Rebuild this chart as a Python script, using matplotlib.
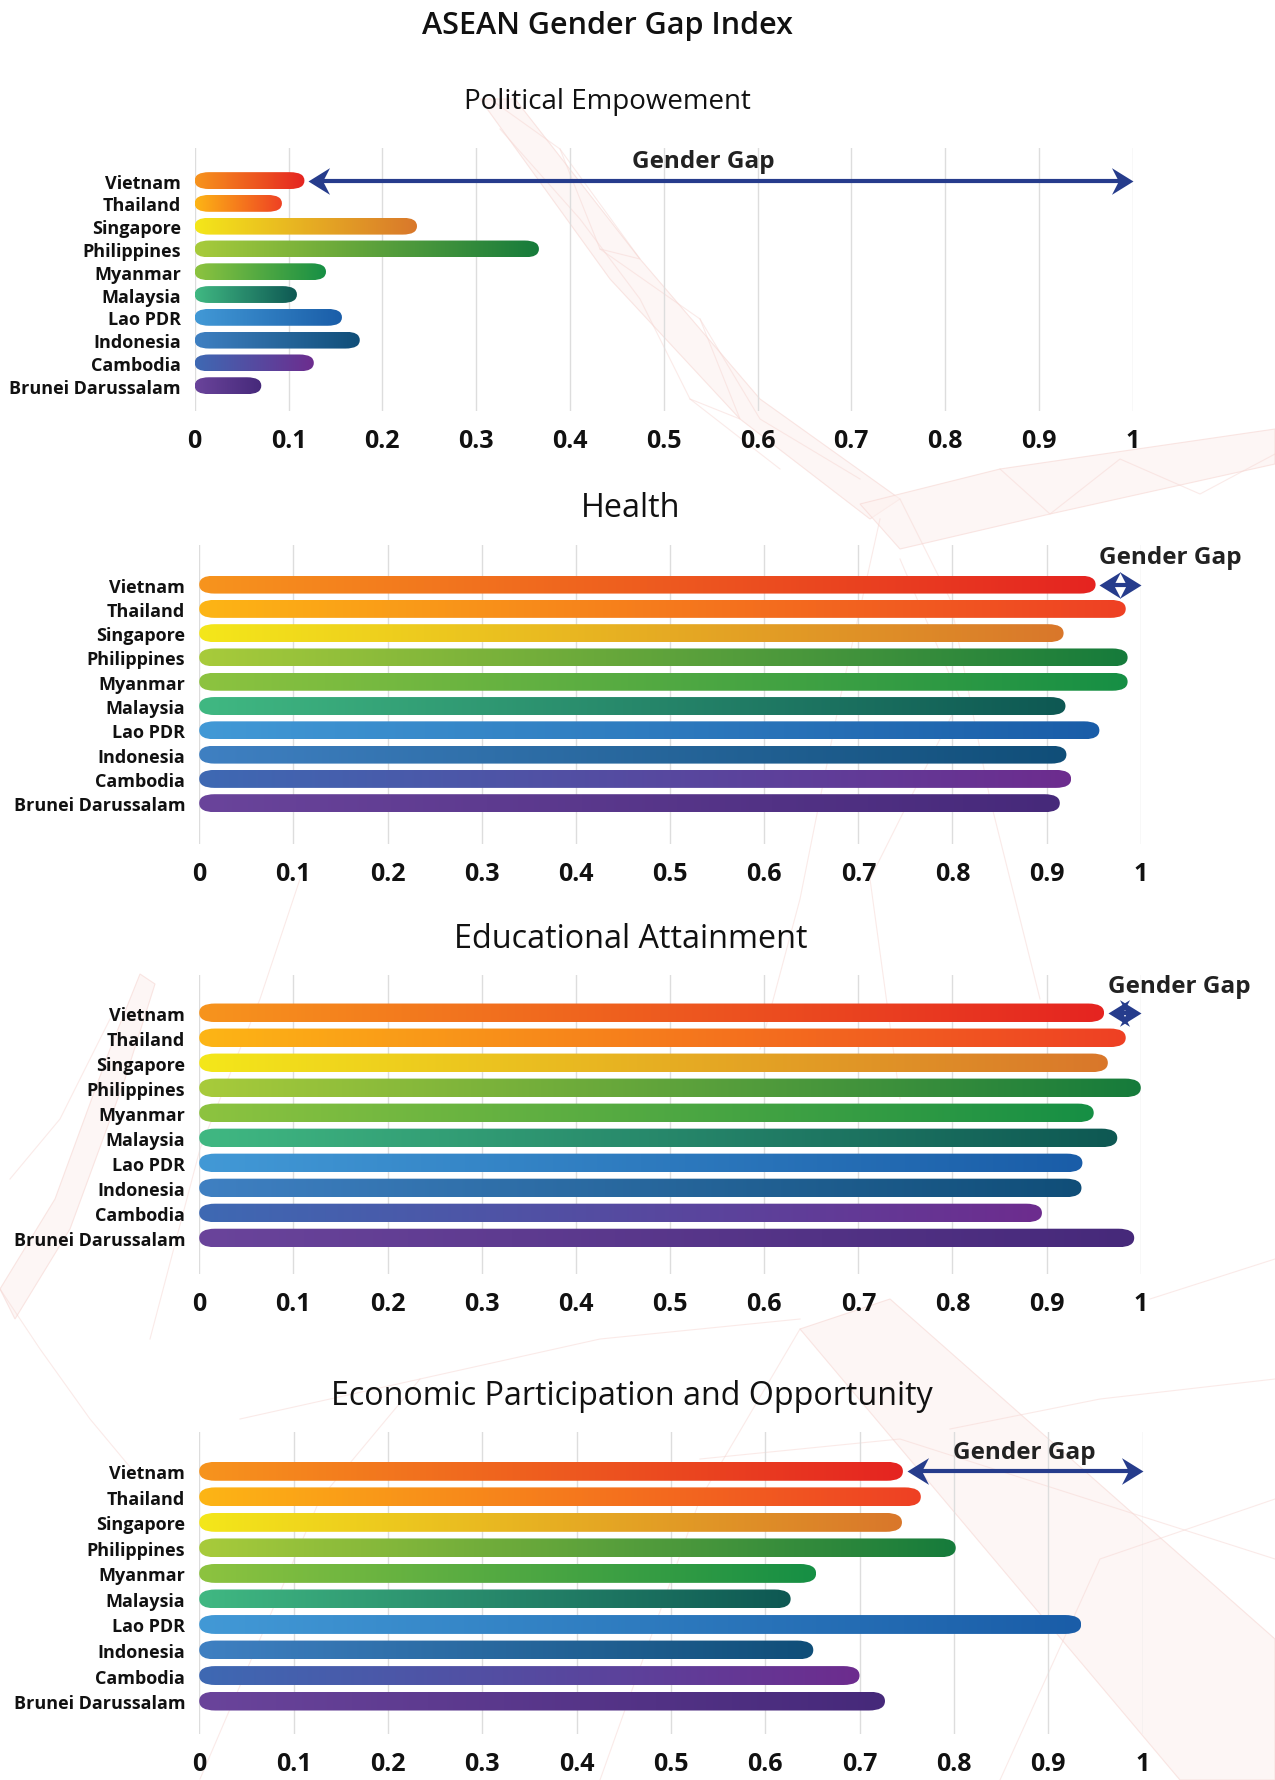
import matplotlib
matplotlib.use("Agg")
import matplotlib.pyplot as plt
import numpy as np
from matplotlib.patches import FancyBboxPatch, Polygon
from matplotlib.lines import Line2D
from matplotlib.path import Path
from matplotlib.colors import to_rgb

# ---------------- data ----------------
countries = ["Vietnam", "Thailand", "Singapore", "Philippines", "Myanmar",
             "Malaysia", "Lao PDR", "Indonesia", "Cambodia", "Brunei Darussalam"]
political = [0.117, 0.093, 0.237, 0.367, 0.140, 0.109, 0.157, 0.176, 0.127, 0.071]
health = [0.952, 0.984, 0.918, 0.986, 0.986, 0.920, 0.956, 0.921, 0.926, 0.914]
education = [0.961, 0.984, 0.965, 1.000, 0.950, 0.975, 0.938, 0.937, 0.895, 0.993]
economic = [0.746, 0.765, 0.745, 0.802, 0.654, 0.627, 0.935, 0.651, 0.700, 0.727]
tick_values = [0, 0.1, 0.2, 0.3, 0.4, 0.5, 0.6, 0.7, 0.8, 0.9, 1.0]
tick_labels = ["0", "0.1", "0.2", "0.3", "0.4", "0.5", "0.6", "0.7", "0.8", "0.9", "1"]
start_colors = ["#F7941D", "#FDB515", "#F4E71A", "#A8CB3A", "#8DC33F",
                "#40B882", "#4299D6", "#3F80C2", "#3E69B3", "#6A449B"]
end_colors = ["#E52421", "#EE4024", "#D9772B", "#167B3C", "#168F45",
              "#0E5853", "#1A5DA8", "#104E78", "#6D2C8E", "#46297A"]
gap_color = "#263C8C"

W, H = 1275, 1781
fig = plt.figure(figsize=(W / 100, H / 100), dpi=100)
fig.patch.set_facecolor("white")

LABEL_FONT = ["Open Sans", "DejaVu Sans"]
TITLE_FONT = ["Open Sans", "DejaVu Sans"]


def px_rect(l, t, r, b):
    return [l / W, 1 - b / H, (r - l) / W, (b - t) / H]


def fxy(pts):
    return [(x / W, 1 - y / H) for x, y in pts]


# ---------------- faint decorative background mesh ----------------
deco_line = "#F6D6D2"
deco_fill = "#FDF1EF"
ribbons = [
    [(480, 100), (515, 100), (640, 260), (760, 400), (900, 500), (870, 520), (740, 420), (610, 280)],
    [(860, 505), (1000, 470), (1275, 430), (1275, 465), (1050, 515), (900, 550)],
    [(0, 1290), (55, 1200), (110, 1050), (140, 975), (155, 985), (125, 1080), (70, 1230), (15, 1320)],
    [(800, 1330), (890, 1300), (1275, 1640), (1275, 1781), (1180, 1781)],
]
for pts in ribbons:
    fig.add_artist(Polygon(fxy(pts), closed=True, transform=fig.transFigure,
                           facecolor=deco_fill, edgecolor=deco_line, lw=0.8,
                           alpha=0.6, zorder=-2))
mesh_lines = [
    [(490, 100), (560, 150), (600, 250), (700, 320), (760, 420), (860, 480)],
    [(500, 130), (580, 220), (640, 300), (690, 400), (780, 470)],
    [(560, 150), (640, 260), (600, 250)],
    [(700, 320), (740, 420), (690, 400)],
    [(900, 500), (950, 600), (990, 800), (1040, 1000)],
    [(880, 520), (840, 700), (800, 900), (760, 1050)],
    [(900, 560), (960, 700), (870, 880), (900, 1100)],
    [(1000, 470), (1050, 515), (1120, 460), (1200, 495), (1275, 455)],
    [(300, 880), (260, 1000), (200, 1150), (150, 1340)],
    [(0, 1290), (40, 1350), (90, 1420), (140, 1480)],
    [(10, 1180), (60, 1120), (110, 1020)],
    [(240, 1420), (420, 1380), (600, 1340), (800, 1320)],
    [(200, 1780), (320, 1500), (420, 1380)],
    [(600, 1781), (700, 1500), (800, 1330)],
    [(1000, 1781), (1100, 1560), (1275, 1500)],
    [(950, 1430), (1100, 1400), (1275, 1380)],
    [(700, 1460), (900, 1440), (1275, 1560)],
    [(1150, 1300), (1275, 1260)],
]
for pts in mesh_lines:
    xs, ys = zip(*fxy(pts))
    fig.add_artist(Line2D(xs, ys, transform=fig.transFigure, color=deco_line,
                          lw=0.8, alpha=0.5, zorder=-1))


def head_marker(direction):
    s = 1 if direction > 0 else -1
    verts = [(0, 0), (-1.0 * s, 0.62), (-0.68 * s, 0), (-1.0 * s, -0.62), (0, 0)]
    codes = [Path.MOVETO, Path.LINETO, Path.LINETO, Path.LINETO, Path.CLOSEPOLY]
    return Path(verts, codes)


panels = [
    dict(title="Political Empowement", values=political, rect=(194.7, 149, 1132.7, 412),
         ylim=(10.11, -1.43), gap_mode="center", gap_dy=-0.87, gap_shift=-0.018,
         title_xy=(607.5, 109), title_size=20),
    dict(title="Health", values=health, rect=(199.2, 546, 1140.8, 845),
         ylim=(10.68, -1.63), gap_mode="left", gap_dy=-1.15, gap_shift=0.0,
         title_xy=(631, 517), title_size=23.3),
    dict(title="Educational Attainment", values=education, rect=(199.2, 976, 1140.8, 1275),
         ylim=(10.44, -1.51), gap_mode="left", gap_dy=-1.08, gap_shift=0.0,
         title_xy=(631, 948), title_size=23.3),
    dict(title="Economic Participation and Opportunity", values=economic,
         rect=(199.2, 1433, 1142.5, 1735),
         ylim=(10.29, -1.54), gap_mode="center", gap_dy=-0.75, gap_shift=0.0,
         title_xy=(632, 1405), title_size=23.2),
]

fig.text(607.5 / W, 1 - 34 / H, "ASEAN Gender Gap Index", ha="center", va="baseline",
         fontsize=22, fontweight="semibold", family=TITLE_FONT, color="#111111")

hy = 0.37
for p in panels:
    l, t, r, b = p["rect"]
    ax = fig.add_axes(px_rect(l, t, r, b))
    ax.set_facecolor("none")
    ylo, yhi = p["ylim"]
    px_per_x = (r - l) / 1.0
    px_per_y = (b - t) / abs(ylo - yhi)
    ry_px = hy * px_per_y
    rx = 1.7 * ry_px / px_per_x
    grad = np.linspace(0, 1, 256)[:, None]
    for i, (v, c0, c1) in enumerate(zip(p["values"], start_colors, end_colors)):
        c0 = np.array(to_rgb(c0)); c1 = np.array(to_rgb(c1))
        arr = ((1 - grad) * c0 + grad * c1)[None, :, :]
        rr = min(rx, v / 2)
        patch = FancyBboxPatch((0, i - hy), v, 2 * hy,
                               boxstyle=f"round,pad=0,rounding_size={rr}",
                               mutation_aspect=hy / rr,
                               facecolor="none", edgecolor="none", zorder=3)
        ax.add_patch(patch)
        im = ax.imshow(arr, extent=(0, v, i + hy, i - hy), aspect="auto",
                       interpolation="bilinear", zorder=3)
        im.set_clip_path(patch)

    # gender gap arrow from Vietnam bar to 1
    v0 = p["values"][0]
    x0 = v0 + 0.004
    x1 = 1.0
    ax.plot([x0 + 0.01, x1 - 0.01], [0, 0], color=gap_color, lw=3, zorder=4,
            solid_capstyle="butt")
    ax.plot([x1], [0], marker=head_marker(1), markersize=31, color=gap_color,
            markeredgewidth=0, zorder=5, linestyle="none")
    ax.plot([x0], [0], marker=head_marker(-1), markersize=31, color=gap_color,
            markeredgewidth=0, zorder=5, linestyle="none")
    if p["gap_mode"] == "center":
        ax.text((x0 + x1) / 2 + p["gap_shift"], p["gap_dy"], "Gender Gap",
                ha="center", va="center", fontsize=17.5, fontweight="bold",
                family=LABEL_FONT, color="#222222", zorder=6)
    else:
        ax.text(x0, p["gap_dy"], "Gender Gap", ha="left", va="center",
                fontsize=17.5, fontweight="bold", family=LABEL_FONT, color="#222222",
                zorder=6, clip_on=False)

    ax.set_xlim(0, 1)
    ax.set_ylim(ylo, yhi)
    ax.set_xticks(tick_values)
    ax.set_xticklabels(tick_labels, fontsize=18, fontweight="bold", family=LABEL_FONT)
    ax.set_yticks(range(len(countries)))
    ax.set_yticklabels(countries, fontsize=13, fontweight="bold", family=LABEL_FONT)
    ax.tick_params(axis="both", length=0, colors="#111111")
    ax.tick_params(axis="x", pad=12)
    ax.tick_params(axis="y", pad=10)
    ax.grid(axis="x", color="#DDDDDD", lw=1)
    ax.set_axisbelow(True)
    for s in ax.spines.values():
        s.set_visible(False)

    fig.text(p["title_xy"][0] / W, 1 - p["title_xy"][1] / H, p["title"],
             ha="center", va="baseline", fontsize=p["title_size"], family=TITLE_FONT,
             color="#111111")

fig.savefig("out.png", dpi=100, facecolor="white")
